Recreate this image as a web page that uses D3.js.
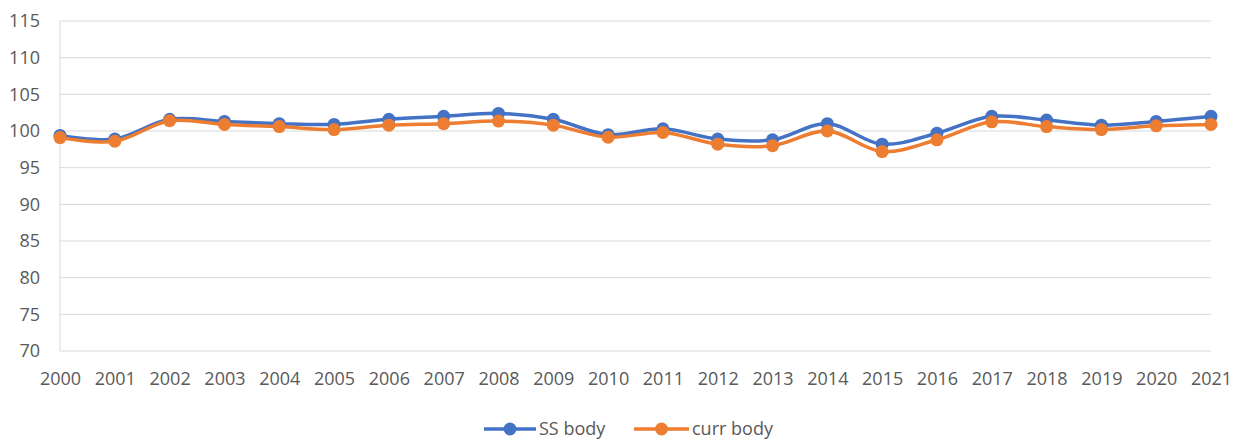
<!DOCTYPE html>
<html><head><meta charset="utf-8">
<script src="https://cdn.jsdelivr.net/npm/d3@7"></script>
<style>body{margin:0;background:#fff}svg{display:block}</style>
</head><body>
<svg id="chart" width="1244" height="442"></svg>
<script>
const years = ["2000","2001","2002","2003","2004","2005","2006","2007","2008","2009","2010","2011","2012","2013","2014","2015","2016","2017","2018","2019","2020","2021"];
const ssBody = [99.4,98.9,101.6,101.3,101.0,100.9,101.6,102.0,102.4,101.6,99.5,100.3,98.9,98.8,101.0,98.2,99.7,102.0,101.5,100.8,101.3,102.0];
const currBody = [99.1,98.6,101.4,100.9,100.6,100.2,100.8,101.0,101.35,100.8,99.15,99.8,98.2,98.0,100.0,97.2,98.8,101.25,100.6,100.2,100.7,100.9];
const yTicks = [70,75,80,85,90,95,100,105,110,115];
const seriesNames = ["SS body","curr body"];
const colors = ["#4472C4","#ED7D31"];

(function(){
const svg = d3.select("#chart");
const font = "'Open Sans', sans-serif";
const mLeft = 60, mRight = 1211, mTop = 21, mBottom = 351;
const x = d3.scalePoint().domain(years).range([mLeft, mRight]);
const y = d3.scaleLinear().domain([70,115]).range([mBottom, mTop]);

svg.append("g").selectAll("line").data(yTicks).join("line")
  .attr("x1", mLeft).attr("x2", mRight)
  .attr("y1", d => y(d)).attr("y2", d => y(d))
  .attr("stroke", "#d9d9d9").attr("stroke-width", 1);
svg.append("line").attr("x1", mLeft).attr("x2", mLeft).attr("y1", mTop).attr("y2", mBottom)
  .attr("stroke", "#d9d9d9").attr("stroke-width", 1);

const yAxis = d3.axisLeft(y).tickValues(yTicks).tickSize(0).tickPadding(20);
const gy = svg.append("g").attr("transform", `translate(${mLeft},0)`).call(yAxis);
gy.select(".domain").remove();
gy.selectAll("text").attr("fill", "#595959").style("font-family", font).style("font-size", "18px");

const xAxis = d3.axisBottom(x).tickSize(0).tickPadding(21);
const gx = svg.append("g").attr("transform", `translate(0,${mBottom})`).call(xAxis);
gx.select(".domain").remove();
gx.selectAll("text").attr("fill", "#595959").style("font-family", font).style("font-size", "18px");

const seriesData = [ssBody, currBody];
const line = d3.line().x((d,i) => x(years[i])).y(d => y(d)).curve(d3.curveCatmullRom.alpha(0.5));
seriesData.forEach((vals, s) => {
  const g = svg.append("g");
  g.append("path").datum(vals).attr("d", line).attr("fill", "none")
    .attr("stroke", colors[s]).attr("stroke-width", 3.5).attr("stroke-linejoin", "round");
  g.selectAll("circle").data(vals).join("circle")
    .attr("cx", (d,i) => x(years[i])).attr("cy", d => y(d)).attr("r", 6.5)
    .attr("fill", colors[s]);
});

const legendItems = [{x1:484, x2:536, tx:539}, {x1:634, x2:689, tx:692}];
const ly = 429;
legendItems.forEach((it, s) => {
  const g = svg.append("g");
  g.append("line").attr("x1", it.x1).attr("x2", it.x2).attr("y1", ly).attr("y2", ly)
    .attr("stroke", colors[s]).attr("stroke-width", 3.5);
  g.append("circle").attr("cx", (it.x1+it.x2)/2).attr("cy", ly).attr("r", 6.5).attr("fill", colors[s]);
  g.append("text").attr("x", it.tx).attr("y", ly).attr("dy", "0.35em")
    .attr("fill", "#595959").style("font-family", font).style("font-size", "18px")
    .text(seriesNames[s]);
});
})();
</script>
</body></html>
